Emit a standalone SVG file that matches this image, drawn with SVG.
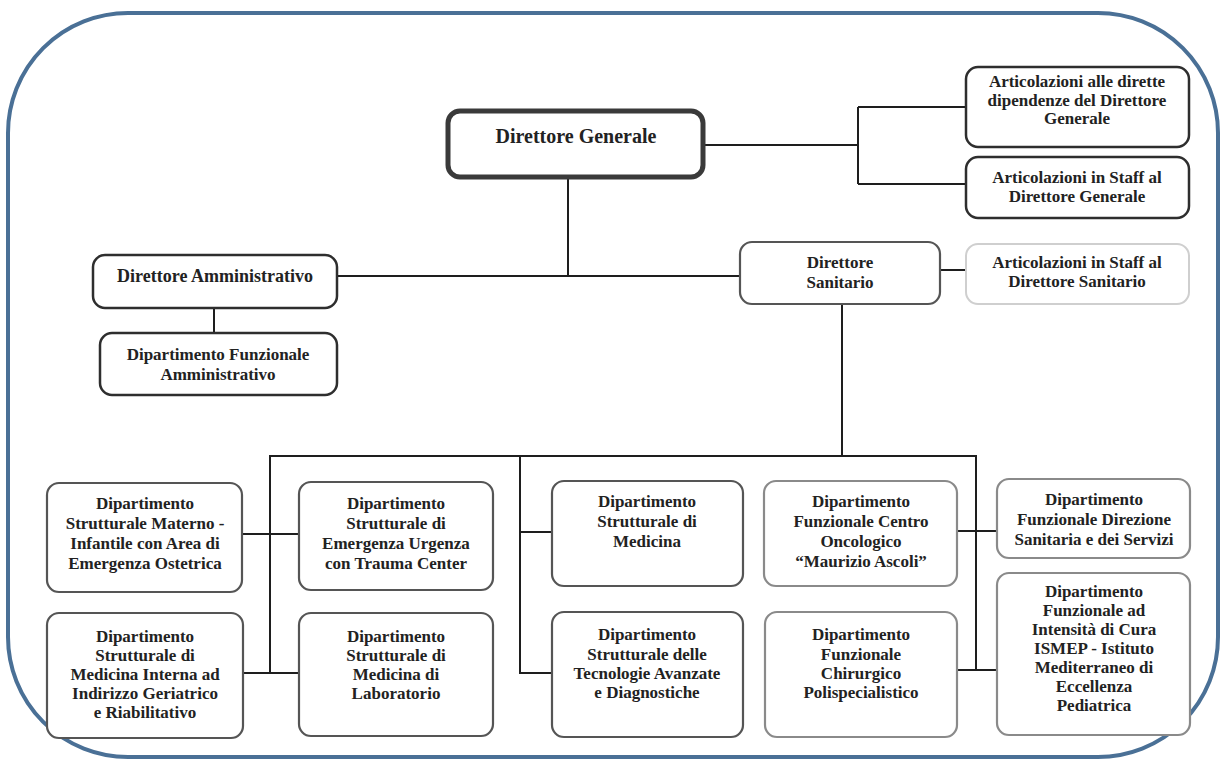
<svg xmlns="http://www.w3.org/2000/svg" width="1225" height="767" viewBox="0 0 1225 767">
<style>
.frame{fill:none;stroke:#4a7096;stroke-width:4}
.bx{fill:#fff;rx:12;ry:12}
.dark{stroke:#2e2e2e;stroke-width:2.5}
.mid{stroke:#555;stroke-width:2.2}
.light{stroke:#8a8a8a;stroke-width:2.2}
.pale{stroke:#cfcfcf;stroke-width:2}
.dg{stroke:#3a3a3a;stroke-width:5}
text{font-family:"Liberation Serif","Times New Roman",serif;font-weight:bold;font-size:17px;fill:#222;text-anchor:middle}
.conn line{stroke:#1e1e1e;stroke-width:2}
</style>
<rect width="1225" height="767" fill="#fff"/>
<rect class="frame" x="8" y="13" width="1210" height="744" rx="120" ry="120"/>

<g class="conn">
<line x1="703" y1="145" x2="858" y2="145"/>
<line x1="858" y1="107" x2="858" y2="184"/>
<line x1="858" y1="107" x2="966" y2="107"/>
<line x1="858" y1="184" x2="966" y2="184"/>
<line x1="568" y1="177" x2="568" y2="276"/>
<line x1="337" y1="276" x2="740" y2="276"/>
<line x1="940" y1="270" x2="966" y2="270"/>
<line x1="214" y1="308" x2="214" y2="333"/>
<line x1="842" y1="304" x2="842" y2="456"/>
<line x1="270" y1="456" x2="976" y2="456"/>
<line x1="270" y1="455" x2="270" y2="673"/>
<line x1="242" y1="534" x2="299" y2="534"/>
<line x1="243" y1="673" x2="299" y2="673"/>
<line x1="520" y1="455" x2="520" y2="673"/>
<line x1="519" y1="532" x2="552" y2="532"/>
<line x1="519" y1="673" x2="552" y2="673"/>
<line x1="976" y1="455" x2="976" y2="671"/>
<line x1="957" y1="531" x2="997" y2="531"/>
<line x1="957" y1="670" x2="997" y2="670"/>
</g>

<g id="direttore-generale">
<rect class="bx dg" x="448" y="111" width="255" height="66" rx="9"/>
<text x="576" y="143" style="font-size:20px">Direttore Generale</text>
</g>

<g id="articolazioni-dirette">
<rect class="bx dark" x="966" y="67" width="223" height="80" rx="10"/>
<text x="1077" y="87">Articolazioni alle dirette</text>
<text x="1077" y="106">dipendenze del Direttore</text>
<text x="1077" y="124">Generale</text>
</g>

<g id="staff-dg">
<rect class="bx dark" x="966" y="157" width="223" height="61" rx="10"/>
<text x="1077" y="183">Articolazioni in Staff al</text>
<text x="1077" y="202">Direttore Generale</text>
</g>

<g id="direttore-sanitario">
<rect class="bx mid" x="740" y="242" width="200" height="62" rx="10"/>
<text x="840" y="268">Direttore</text>
<text x="840" y="288">Sanitario</text>
</g>

<g id="staff-ds">
<rect class="bx pale" x="966" y="244" width="223" height="60" rx="10"/>
<text x="1077" y="268">Articolazioni in Staff al</text>
<text x="1077" y="287">Direttore Sanitario</text>
</g>

<g id="direttore-amministrativo">
<rect class="bx dark" x="93" y="255" width="244" height="53" rx="10"/>
<text x="215" y="282" style="font-size:18px">Direttore Amministrativo</text>
</g>

<g id="dip-funz-amministrativo">
<rect class="bx dark" x="100" y="333" width="237" height="62" rx="10"/>
<text x="218" y="360">Dipartimento Funzionale</text>
<text x="218" y="380">Amministrativo</text>
</g>

<g id="materno-infantile">
<rect class="bx mid" x="47" y="483" width="195" height="109" rx="16"/>
<text x="145" y="509">Dipartimento</text>
<text x="145" y="529">Strutturale Materno -</text>
<text x="145" y="549">Infantile con Area di</text>
<text x="145" y="569">Emergenza Ostetrica</text>
</g>

<g id="emergenza-urgenza">
<rect class="bx mid" x="299" y="482" width="194" height="108" rx="16"/>
<text x="396" y="509">Dipartimento</text>
<text x="396" y="529">Strutturale di</text>
<text x="396" y="549">Emergenza Urgenza</text>
<text x="396" y="569">con Trauma Center</text>
</g>

<g id="medicina">
<rect class="bx mid" x="552" y="481" width="191" height="105" rx="16"/>
<text x="647" y="507">Dipartimento</text>
<text x="647" y="527">Strutturale di</text>
<text x="647" y="547">Medicina</text>
</g>

<g id="centro-oncologico">
<rect class="bx light" x="764" y="481" width="193" height="105" rx="16"/>
<text x="861" y="507">Dipartimento</text>
<text x="861" y="527">Funzionale Centro</text>
<text x="861" y="547">Oncologico</text>
<text x="861" y="567">“Maurizio Ascoli”</text>
</g>

<g id="direzione-sanitaria">
<rect class="bx light" x="997" y="479" width="193" height="79" rx="14"/>
<text x="1094" y="505">Dipartimento</text>
<text x="1094" y="525">Funzionale Direzione</text>
<text x="1094" y="545">Sanitaria e dei Servizi</text>
</g>

<g id="medicina-interna">
<rect class="bx mid" x="47" y="613" width="196" height="125" rx="16"/>
<text x="145" y="642">Dipartimento</text>
<text x="145" y="661">Strutturale di</text>
<text x="145" y="680">Medicina Interna ad</text>
<text x="145" y="699">Indirizzo Geriatrico</text>
<text x="145" y="718">e Riabilitativo</text>
</g>

<g id="medicina-laboratorio">
<rect class="bx mid" x="299" y="613" width="194" height="123" rx="16"/>
<text x="396" y="642">Dipartimento</text>
<text x="396" y="661">Strutturale di</text>
<text x="396" y="680">Medicina di</text>
<text x="396" y="699">Laboratorio</text>
</g>

<g id="tecnologie-avanzate">
<rect class="bx mid" x="552" y="612" width="191" height="125" rx="16"/>
<text x="647" y="640">Dipartimento</text>
<text x="647" y="660">Strutturale delle</text>
<text x="647" y="679">Tecnologie Avanzate</text>
<text x="647" y="698">e Diagnostiche</text>
</g>

<g id="chirurgico">
<rect class="bx light" x="765" y="612" width="192" height="125" rx="16"/>
<text x="861" y="640">Dipartimento</text>
<text x="861" y="660">Funzionale</text>
<text x="861" y="679">Chirurgico</text>
<text x="861" y="698">Polispecialistico</text>
</g>

<g id="ismep">
<rect class="bx light" x="997" y="573" width="193" height="162" rx="18"/>
<text x="1094" y="597">Dipartimento</text>
<text x="1094" y="616">Funzionale ad</text>
<text x="1094" y="635">Intensità di Cura</text>
<text x="1094" y="654">ISMEP - Istituto</text>
<text x="1094" y="673">Mediterraneo di</text>
<text x="1094" y="692">Eccellenza</text>
<text x="1094" y="711">Pediatrica</text>
</g>
</svg>
